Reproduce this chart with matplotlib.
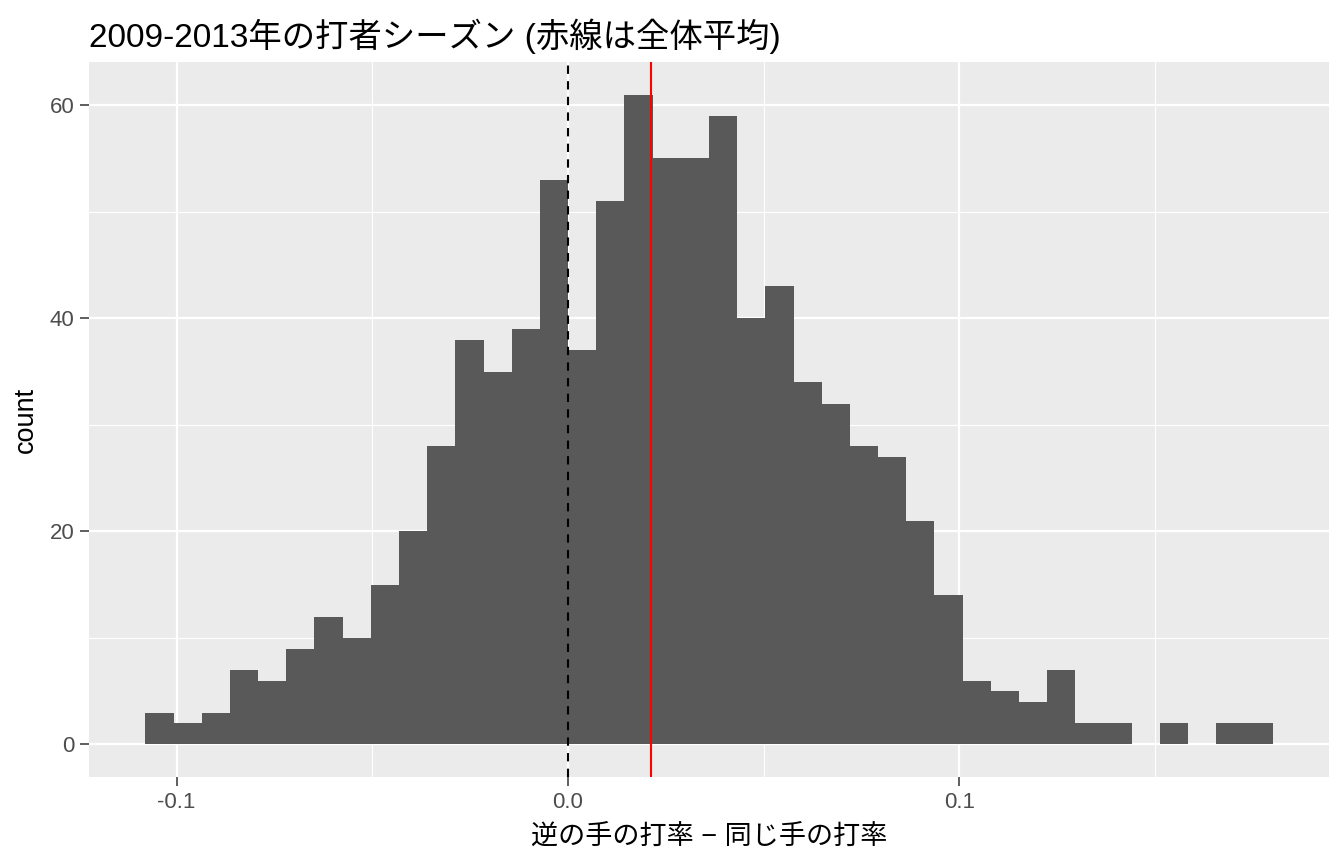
import matplotlib
matplotlib.use("Agg")
import matplotlib.pyplot as plt
import numpy as np

# histogram: bin width 0.0072, first edge -0.108
bin_width = 0.0072
first_edge = -0.108
counts = [3, 2, 3, 7, 6, 9, 12, 10, 15, 20,
          28, 38, 35, 39, 53, 37, 51, 61, 55, 55,
          59, 40, 43, 34, 32, 28, 27, 21, 14, 6,
          5, 4, 7, 2, 2, 0, 2, 0, 2, 2]
overall_mean = 0.0213

title = "2009-2013年の打者シーズン (赤線は全体平均)"
xlabel = "逆の手の打率 − 同じ手の打率"
ylabel = "count"
fonts = ["Liberation Sans", "Noto Sans CJK JP", "DejaVu Sans"]
plt.rcParams["font.family"] = fonts

edges = first_edge + bin_width * np.arange(len(counts) + 1)
centers = (edges[:-1] + edges[1:]) / 2

fig = plt.figure(figsize=(13.44, 8.64), dpi=100)
ax = fig.add_axes([0.0662, 0.1007, 0.9226, 0.8275])
ax.set_facecolor("#EBEBEB")

ax.hist(centers, bins=edges, weights=counts, color="#595959", zorder=2)
ax.axvline(0, color="black", lw=1.5, linestyle=(0, (4, 3.5)), zorder=3)
ax.axvline(overall_mean, color="red", lw=1.5, zorder=3)

# ggplot style expansion of 5%
xr = edges[-1] - edges[0]
ax.set_xlim(edges[0] - 0.05 * xr, edges[-1] + 0.05 * xr)
ax.set_ylim(-0.05 * max(counts), max(counts) * 1.05)

ax.set_xticks([-0.1, 0.0, 0.1])
ax.set_xticklabels(["-0.1", "0.0", "0.1"])
ax.set_xticks([-0.05, 0.05, 0.15], minor=True)
ax.set_yticks([0, 20, 40, 60])
ax.set_yticks([10, 30, 50], minor=True)

ax.grid(which="major", color="white", lw=1.6, zorder=0)
ax.grid(which="minor", color="white", lw=0.8, zorder=0)
ax.set_axisbelow(True)
for s in ax.spines.values():
    s.set_visible(False)

ax.tick_params(which="major", length=6.5, width=1.1, color="#333333",
               labelcolor="#4D4D4D", labelsize=16, pad=4)
ax.tick_params(which="minor", length=0)

ax.set_title(title, loc="left", fontsize=24, pad=11)
ax.set_xlabel(xlabel, fontsize=19.5, labelpad=8)
ax.set_ylabel(ylabel, fontsize=19.5, labelpad=8)

fig.savefig("out.png", dpi=100)
